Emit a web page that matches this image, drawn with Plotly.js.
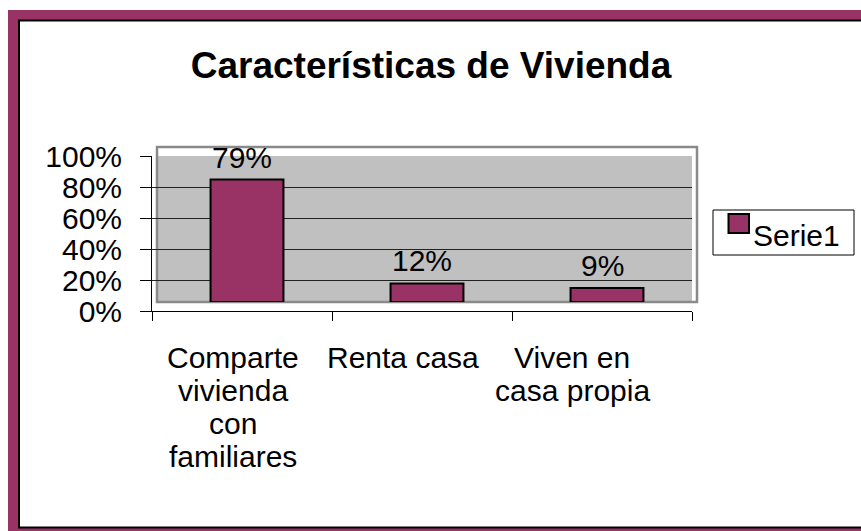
<!DOCTYPE html>
<html>
<head>
<meta charset="utf-8">
<script src="https://cdn.plot.ly/plotly-3.0.1.min.js"></script>
<style>
  body { margin: 0; background: #fff; }
  #chart { width: 861px; height: 531px; }
</style>
</head>
<body>
<div id="chart"></div>
<script>
// data
const categories = ['Comparte vivienda con familiares', 'Renta casa', 'Viven en casa propia']
const labelLines = [['Comparte', 'vivienda', 'con', 'familiares'], ['Renta casa'], ['Viven en', 'casa propia']]
const values = [0.79, 0.12, 0.09]
const seriesName = 'Serie1'
const chartTitle = 'Características de Vivienda'

const purple = '#993366'
const W = 861, H = 531
// plot box in pixels (axes + shifted "3d" wall)
const L = 152, R = 697, T = 147, B = 311
const px = (x) => (x - L) / (R - L)
const py = (y) => (B - y) / (B - T)
const labelNudge = [-9, -19, -30]

let annotations = []

// value labels over bars
values.forEach((v, i) => {
  annotations.push({
    xref: 'x', yref: 'y2', x: categories[i], y: v,
    text: Math.round(v * 100) + '%', showarrow: false,
    yanchor: 'bottom', yshift: 4,
    font: { size: 30, color: '#000' }
  })
})

// category labels, one line each (Excel line spacing)
labelLines.forEach((lines, i) => {
  lines.forEach((line, j) => {
    annotations.push({
      xref: 'x', yref: 'paper', x: categories[i], y: py(357 + j * 33.3),
      text: line, showarrow: false, xshift: labelNudge[i],
      xanchor: 'center', yanchor: 'middle',
      font: { size: 30, color: '#000' }
    })
  })
})

// legend text
annotations.push({
  xref: 'paper', yref: 'paper', x: px(751), y: py(235),
  text: seriesName, showarrow: false, xanchor: 'left', yanchor: 'middle',
  font: { size: 30, color: '#000' }
})

const shapes = [
  // chart frame
  { type: 'rect', xref: 'paper', yref: 'paper', layer: 'below',
    x0: px(8), x1: px(880), y0: py(10), y1: py(545),
    fillcolor: purple, line: { width: 0 } },
  { type: 'rect', xref: 'paper', yref: 'paper', layer: 'below',
    x0: px(19), x1: px(880), y0: py(20.5), y1: py(527.5),
    fillcolor: '#fff', line: { color: '#000', width: 2 } },
  // wall
  { type: 'rect', xref: 'paper', yref: 'paper', layer: 'below',
    x0: px(157), x1: px(692), y0: py(302), y1: py(156),
    fillcolor: '#c0c0c0', line: { width: 0 } },
  { type: 'rect', xref: 'paper', yref: 'paper', layer: 'below',
    x0: px(157), x1: px(697), y0: py(302), y1: py(147),
    line: { color: '#8a8a8a', width: 2.5 } },
  // legend box + swatch
  { type: 'rect', xref: 'paper', yref: 'paper',
    x0: px(713), x1: px(854), y0: py(255), y1: py(210),
    fillcolor: '#fff', line: { color: '#000', width: 1 }, layer: 'below' },
  { type: 'rect', xref: 'paper', yref: 'paper',
    x0: px(728.5), x1: px(749), y0: py(233), y1: py(214),
    fillcolor: purple, line: { color: '#000', width: 2 } }
]

Plotly.newPlot('chart', [{
    // carries the category axis
    x: categories, y: values, type: 'bar', xaxis: 'x', yaxis: 'y',
    marker: { color: 'rgba(0,0,0,0)' }, hoverinfo: 'skip', showlegend: false
  }, {
    x: categories, y: values, type: 'bar', name: seriesName,
    xaxis: 'x2', yaxis: 'y2', width: 0.405,
    marker: { color: purple, line: { color: '#000', width: 2 } },
    showlegend: false
  }], {
    width: W, height: H,
    margin: { l: L, r: W - R, t: T, b: H - B, pad: 0 },
    paper_bgcolor: '#fff',
    plot_bgcolor: 'rgba(0,0,0,0)',
    font: { family: '"Liberation Sans", Arial, sans-serif', color: '#000' },
    title: {
      text: '<b>' + chartTitle + '</b>',
      font: { size: 37, color: '#000' },
      x: 431 / W, xanchor: 'center', xref: 'container',
      y: 1 - 65 / H, yanchor: 'middle', yref: 'container'
    },
    xaxis: {
      type: 'category', categoryarray: categories, range: [-0.5, 2.5],
      domain: [0, px(692)], anchor: 'y',
      showline: true, linecolor: '#000', linewidth: 1,
      ticks: 'outside', tickson: 'boundaries', ticklen: 9, tickcolor: '#000',
      showticklabels: false, showgrid: false, fixedrange: true
    },
    yaxis: {
      range: [0, 1], domain: [0, py(156)], anchor: 'x',
      dtick: 0.2, tickformat: '.0%',
      showline: true, linecolor: '#000', linewidth: 1,
      ticks: 'outside', ticklen: 11, tickcolor: '#000',
      ticklabelstandoff: 12,
      tickfont: { size: 30, color: '#000' },
      showgrid: true, gridcolor: '#222', gridwidth: 1,
      zeroline: false, fixedrange: true
    },
    xaxis2: {
      type: 'category', categoryarray: categories, range: [-0.5, 2.5],
      domain: [px(157), 1], anchor: 'y2', visible: false
    },
    yaxis2: {
      range: [0, 1], domain: [py(302), 1], anchor: 'x2', visible: false
    },
    shapes: shapes,
    annotations: annotations,
    showlegend: false
  }, {
    displayModeBar: false,
    staticPlot: true
  });
</script>
</body>
</html>
